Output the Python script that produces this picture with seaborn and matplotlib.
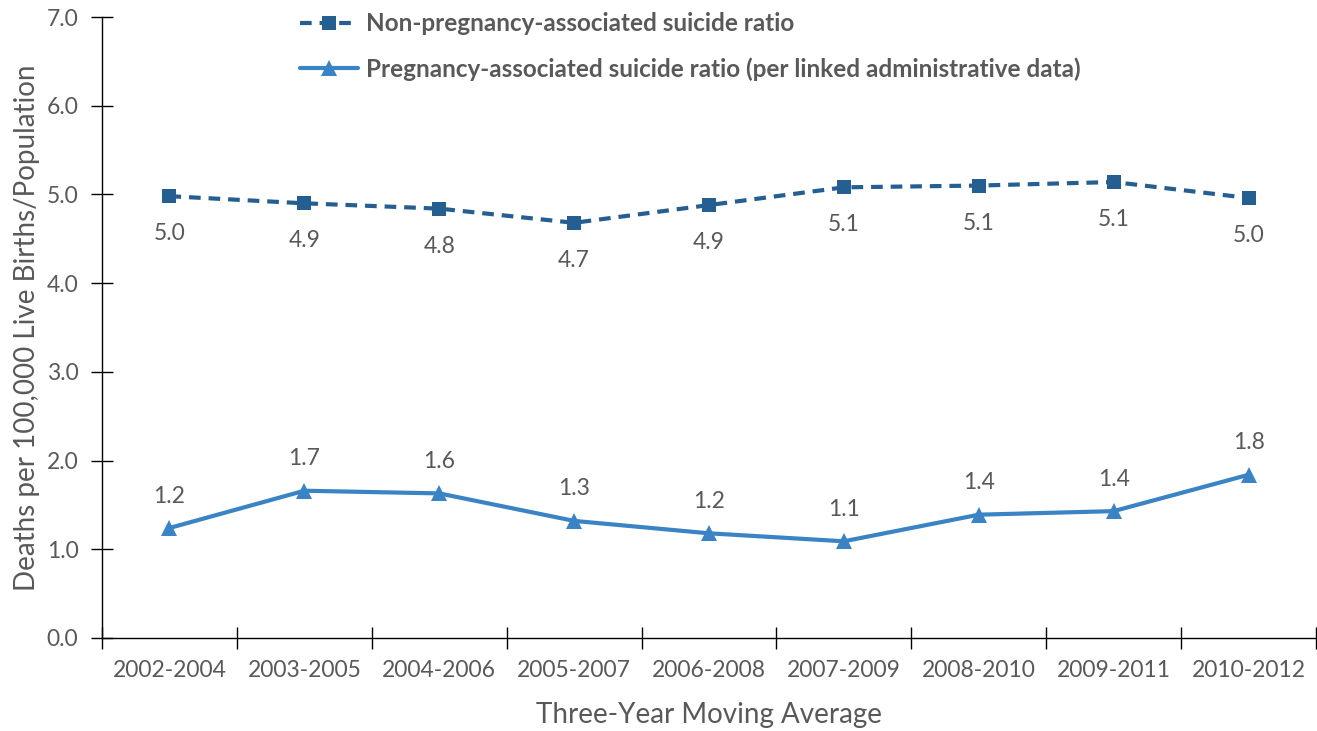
import matplotlib
matplotlib.use("Agg")
import matplotlib.pyplot as plt
import seaborn as sns
import pandas as pd
import numpy as np
from matplotlib.ticker import FixedLocator, MultipleLocator

periods = ["2002-2004", "2003-2005", "2004-2006", "2005-2007", "2006-2008",
           "2007-2009", "2008-2010", "2009-2011", "2010-2012"]
non_preg = [4.98, 4.90, 4.84, 4.68, 4.88, 5.08, 5.10, 5.14, 4.96]
preg = [1.24, 1.66, 1.63, 1.32, 1.18, 1.09, 1.39, 1.43, 1.84]
non_preg_label = "Non-pregnancy-associated suicide ratio"
preg_label = "Pregnancy-associated suicide ratio (per linked administrative data)"

sns.set_theme(style="white")
plt.rcParams['font.family'] = ['Lato', 'DejaVu Sans']

dark_blue = "#255E91"
light_blue = "#3A83C5"
text_gray = "#595959"
fs = 16.5

fig = plt.figure(figsize=(13.17, 7.31), dpi=100)
ax = fig.add_axes([102/1317, 93/731, (1316-102)/1317, (638-17)/731])

df1 = pd.DataFrame({"period": periods, "value": non_preg})
df2 = pd.DataFrame({"period": periods, "value": preg})

sns.lineplot(data=df1, x="period", y="value", ax=ax, color=dark_blue, lw=3,
             marker="s", markersize=10.5, markeredgewidth=0, label=non_preg_label,
             linestyle=(0, (2.8, 1.9)))
sns.lineplot(data=df2, x="period", y="value", ax=ax, color=light_blue, lw=3,
             marker="^", markersize=12, markeredgewidth=0, label=preg_label)

for i, v in enumerate(non_preg):
    ax.annotate(f"{v:.1f}", (i, v), xytext=(0, -27), textcoords="offset points",
                ha="center", va="center", fontsize=fs, color=text_gray)
for i, v in enumerate(preg):
    ax.annotate(f"{v:.1f}", (i, v), xytext=(0, 23), textcoords="offset points",
                ha="center", va="center", fontsize=fs, color=text_gray)

ax.set_xlim(-0.5, len(periods) - 0.5)
ax.set_ylim(0, 7)
ax.yaxis.set_major_locator(MultipleLocator(1))
ax.set_yticklabels([f"{t:.1f}" for t in ax.get_yticks()])
ax.xaxis.set_minor_locator(FixedLocator(np.arange(-0.5, len(periods), 1)))
ax.tick_params(axis="x", which="major", length=0, labelsize=fs, labelcolor=text_gray, pad=16)
ax.tick_params(axis="x", which="minor", bottom=True, direction="inout", length=16, width=1, color="black")
ax.tick_params(axis="y", left=True, direction="inout", length=16, width=1, color="black",
               labelsize=fs, labelcolor=text_gray, pad=9)

for s in ["top", "right"]:
    ax.spines[s].set_visible(False)
for s in ["left", "bottom"]:
    ax.spines[s].set_color("black")
    ax.spines[s].set_linewidth(1)

ax.set_xlabel("Three-Year Moving Average", fontsize=20, color=text_gray, labelpad=15)
ax.set_ylabel("Deaths per 100,000 Live Births/Population", fontsize=20, color=text_gray, labelpad=5)

leg = ax.legend(loc="upper left", bbox_to_anchor=(0.145, 1.043), frameon=False,
                handlelength=2.4, labelspacing=0.9, handletextpad=0.3,
                prop={"weight": "bold", "size": 17.5})
for t in leg.get_texts():
    t.set_color(text_gray)

fig.savefig("out.png", dpi=100)
